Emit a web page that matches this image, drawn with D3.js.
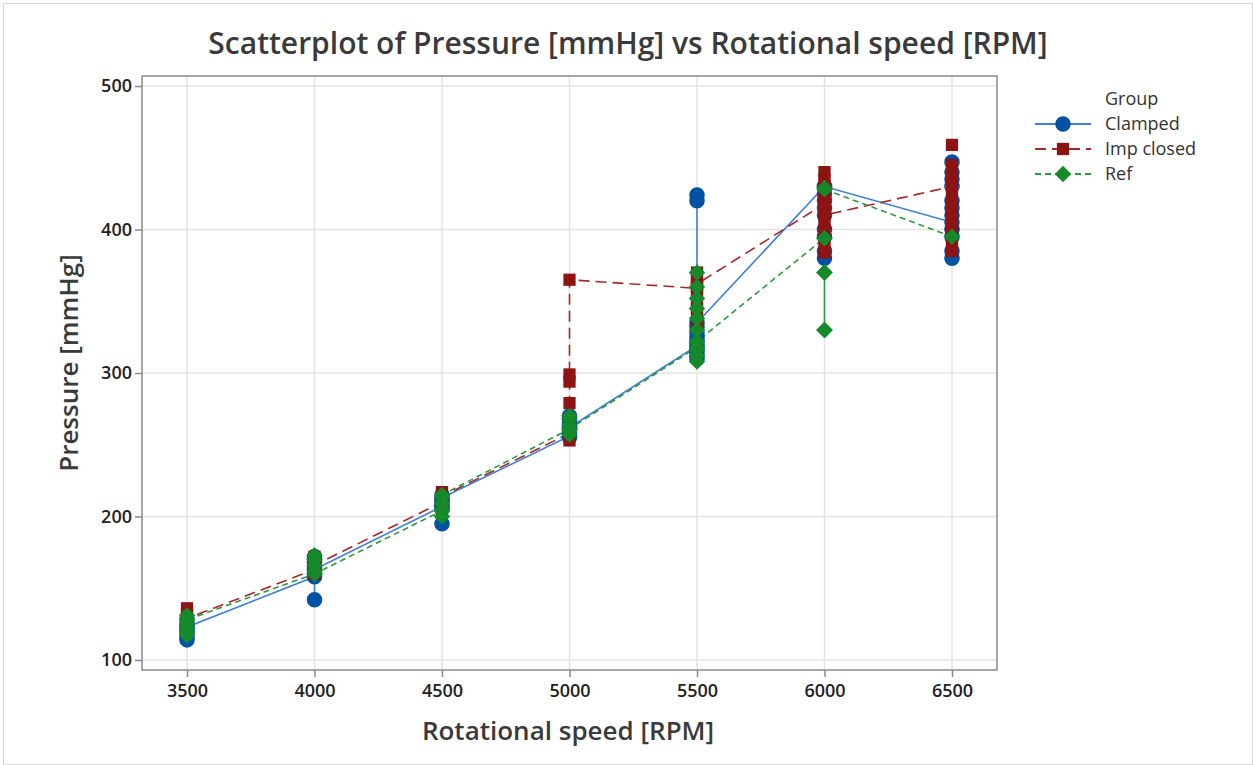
<!DOCTYPE html>
<html>
<head>
<meta charset="utf-8">
<script src="https://cdn.jsdelivr.net/npm/d3@7"></script>
<style>
  body { margin: 0; background: #fff; }
  svg text { font-family: "Open Sans", "Noto Sans", sans-serif; }
</style>
</head>
<body>
<div id="chart"></div>
<script>
// rotational speeds on the x axis
var rpm = [3500, 4000, 4500, 5000, 5500, 6000, 6500];

// pressure readings per speed, in worksheet order (connect line follows this order)
var clamped = [
    [114, 116, 119, 121, 125, 128, 123],
    [158, 142, 160, 165, 168, 172, 170, 163],
    [207, 195, 205, 210, 215, 212, 213],
    [256, 255, 258, 262, 265, 268, 270, 262],
    [319, 310, 312, 315, 318, 322, 325, 328, 332, 420, 424, 335],
    [430, 380, 385, 395, 400, 410, 415, 420, 425, 430],
    [405, 380, 385, 395, 400, 410, 415, 420, 430, 435, 440, 447]
];
var impClosed = [
    [125, 120, 128, 132, 136, 129],
    [163, 160, 165, 170, 172, 166],
    [210, 205, 208, 213, 217, 214],
    [258, 253, 257, 262, 268, 279, 294, 299, 365],
    [359, 335, 340, 345, 350, 355, 360, 365, 370, 362],
    [418, 384, 390, 395, 400, 405, 415, 420, 425, 430, 435, 440, 410],
    [430, 385, 390, 395, 400, 405, 410, 415, 420, 425, 435, 440, 445, 459]
];
var ref = [
    [120, 117, 122, 125, 131, 128],
    [160, 162, 166, 170, 173, 160],
    [204, 200, 205, 209, 213, 215],
    [261, 257, 260, 264, 268, 270, 261],
    [318, 308, 312, 316, 322, 330, 338, 345, 352, 360, 370, 322],
    [394, 370, 330, 370, 330, 394, 429, 428],
    [395]
];

var groupNames = ["Clamped", "Imp closed", "Ref"];
var yTicks = [100, 200, 300, 400, 500];

var W = 1253, H = 765;
var svg = d3.select("#chart").append("svg")
    .attr("width", W)
    .attr("height", H);

// faint outer border of the graph window
svg.append("rect")
    .attr("x", 3.5).attr("y", 3.5)
    .attr("width", W - 4).attr("height", H - 4)
    .attr("fill", "none")
    .attr("stroke", "#d8d8d8");

var plot = { left: 142, right: 997, top: 76, bottom: 670 };

var xScale = d3.scaleLinear()
    .domain([3323.5, 6676.5])
    .range([plot.left, plot.right]);
var yScale = d3.scaleLinear()
    .domain([93, 507])
    .range([plot.bottom, plot.top]);

// gridlines
svg.append("g").selectAll("line.vg")
    .data(rpm).enter().append("line")
    .attr("x1", function(d) { return xScale(d); })
    .attr("x2", function(d) { return xScale(d); })
    .attr("y1", plot.top).attr("y2", plot.bottom)
    .attr("stroke", "#e3e3e3").attr("stroke-width", 1.5);
svg.append("g").selectAll("line.hg")
    .data(yTicks).enter().append("line")
    .attr("y1", function(d) { return yScale(d); })
    .attr("y2", function(d) { return yScale(d); })
    .attr("x1", plot.left).attr("x2", plot.right)
    .attr("stroke", "#e3e3e3").attr("stroke-width", 1.5);

// axes
var xAxis = d3.axisBottom(xScale).tickValues(rpm).tickFormat(d3.format("d"))
    .tickSizeOuter(0).tickSize(7).tickPadding(7);
var yAxis = d3.axisLeft(yScale).tickValues(yTicks).tickFormat(d3.format("d"))
    .tickSizeOuter(0).tickSize(7).tickPadding(3);

var gx = svg.append("g")
    .attr("transform", "translate(0," + plot.bottom + ")")
    .call(xAxis);
var gy = svg.append("g")
    .attr("transform", "translate(" + plot.left + ",0)")
    .call(yAxis);
[gx, gy].forEach(function(g) {
    g.select(".domain").remove();
    g.selectAll(".tick line").attr("stroke", "#8a8a8a").attr("stroke-width", 1.5);
    g.selectAll(".tick text")
        .style("font-size", "18px")
        .style("font-weight", "600")
        .attr("fill", "#222");
});

// frame
svg.append("rect")
    .attr("x", plot.left).attr("y", plot.top)
    .attr("width", plot.right - plot.left)
    .attr("height", plot.bottom - plot.top)
    .attr("fill", "none")
    .attr("stroke", "#8a8a8a")
    .attr("stroke-width", 1.5);

// title + axis labels
svg.append("text")
    .attr("x", 628).attr("y", 54)
    .attr("text-anchor", "middle")
    .style("font-size", "30px")
    .style("font-weight", "600")
    .attr("fill", "#3a3a3a")
    .text("Scatterplot of Pressure [mmHg] vs Rotational speed [RPM]");

svg.append("text")
    .attr("x", 568).attr("y", 740)
    .attr("text-anchor", "middle")
    .style("font-size", "26px")
    .style("font-weight", "600")
    .attr("fill", "#3a3a3a")
    .text("Rotational speed [RPM]");

svg.append("text")
    .attr("transform", "translate(78,363) rotate(-90)")
    .attr("text-anchor", "middle")
    .style("font-size", "26px")
    .style("font-weight", "600")
    .attr("fill", "#3a3a3a")
    .text("Pressure [mmHg]");

// square diamond (a square turned 45 degrees)
var squareDiamond = {
    draw: function(context, size) {
        var r = Math.sqrt(size / 2);
        context.moveTo(0, -r);
        context.lineTo(r, 0);
        context.lineTo(0, r);
        context.lineTo(-r, 0);
        context.closePath();
    }
};

// series styling
var series = [
    { name: groupNames[0], values: clamped, marker: "#0052a5", line: "#3f7fd6", dash: null, symbol: d3.symbolCircle, size: 190 },
    { name: groupNames[1], values: impClosed, marker: "#8e1414", line: "#a82828", dash: "11,6", symbol: d3.symbolSquare, size: 150 },
    { name: groupNames[2], values: ref, marker: "#148a2a", line: "#2c9a3c", dash: "6,4", symbol: squareDiamond, size: 135 }
];

var lineGen = d3.line()
    .x(function(p) { return xScale(p.x); })
    .y(function(p) { return yScale(p.y); });

series.forEach(function(s) {
    var pts = [];
    s.values.forEach(function(vals, i) {
        vals.forEach(function(v) {
            pts.push({ x: rpm[i], y: v });
        });
    });
    s.pts = pts;
});

// connect lines first, then the markers on top
series.forEach(function(s) {
    svg.append("path")
        .datum(s.pts)
        .attr("d", lineGen)
        .attr("fill", "none")
        .attr("stroke", s.line)
        .attr("stroke-width", 1.6)
        .attr("stroke-dasharray", s.dash);
});
series.forEach(function(s) {
    svg.append("g").selectAll("path")
        .data(s.pts).enter().append("path")
        .attr("d", d3.symbol().type(s.symbol).size(s.size))
        .attr("transform", function(p) {
            return "translate(" + xScale(p.x) + "," + yScale(p.y) + ")";
        })
        .attr("fill", s.marker);
});

// legend
var legend = svg.append("g").attr("transform", "translate(1035,0)");
legend.append("text")
    .attr("x", 70).attr("y", 105)
    .style("font-size", "18px")
    .attr("fill", "#333")
    .text("Group");

var legY = [124, 149, 174];
series.forEach(function(s, i) {
    var g = legend.append("g").attr("transform", "translate(0," + legY[i] + ")");
    g.append("line")
        .attr("x1", 0).attr("x2", 56)
        .attr("stroke", s.line)
        .attr("stroke-width", 1.8)
        .attr("stroke-dasharray", s.dash);
    g.append("path")
        .attr("d", d3.symbol().type(s.symbol).size(s.size))
        .attr("transform", "translate(28,0)")
        .attr("fill", s.marker);
    g.append("text")
        .attr("x", 70).attr("y", 6)
        .style("font-size", "18px")
        .attr("fill", "#333")
        .text(s.name);
});
</script>
</body>
</html>
